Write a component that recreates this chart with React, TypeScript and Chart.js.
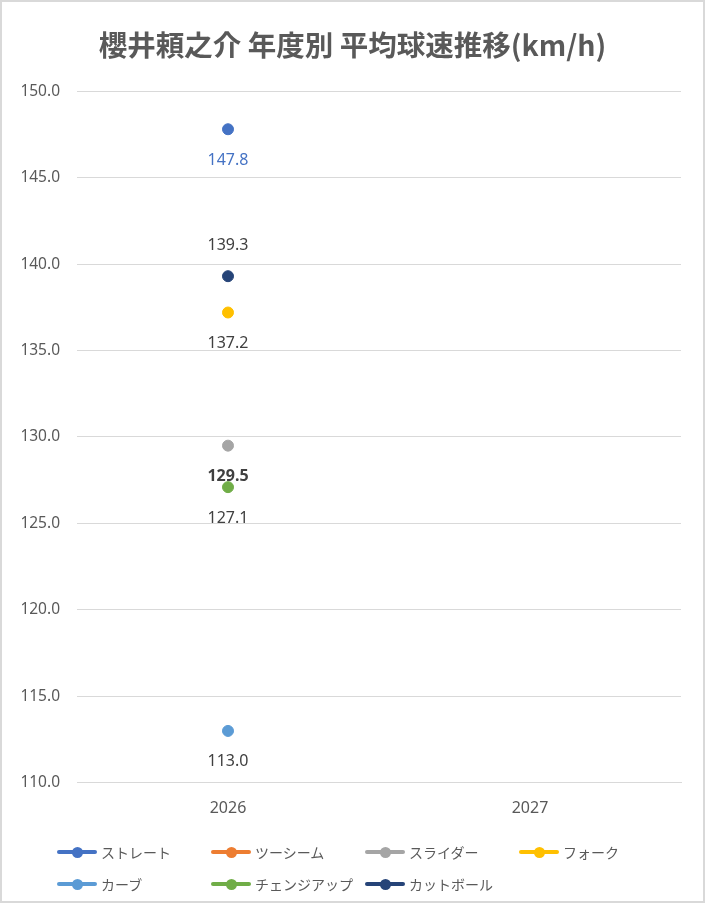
import { useEffect, useRef } from "react";
import { Chart, registerables } from "chart.js";

Chart.register(...registerables);

const TITLE = "櫻井頼之介 年度別 平均球速推移(km/h)";
const YEARS = ["2026", "2027"];
const PITCHES = ["ストレート", "ツーシーム", "スライダー", "フォーク", "カーブ", "チェンジアップ", "カットボール"];
const STRAIGHT = [147.8, null];
const TWO_SEAM = [null, null];
const SLIDER = [129.5, null];
const FORK = [137.2, null];
const CURVE = [113.0, null];
const CHANGEUP = [127.1, null];
const CUTTER = [139.3, null];
const SERIES = [STRAIGHT, TWO_SEAM, SLIDER, FORK, CURVE, CHANGEUP, CUTTER];
const Y_MIN = 110;
const Y_MAX = 150;
const Y_STEP = 5;

// styles
const COLORS = ["#4472C4", "#ED7D31", "#A5A5A5", "#FFC000", "#5B9BD5", "#70AD47", "#264478"];
const LABEL_SIDE = [1, 1, 1, 1, 1, 1, -1]; // 1 = below point, -1 = above
const LABEL_COLOR = ["#4472C4", "#404040", "#404040", "#404040", "#404040", "#404040", "#404040"];
const LABEL_BOLD = [false, false, true, false, false, false, false];
const FONT = "'Noto Sans', 'Noto Sans CJK JP', sans-serif";
const JP_FONT = "'Noto Sans CJK JP', 'Noto Sans', sans-serif";

const valueLabels = {
  id: "valueLabels",
  afterDatasetsDraw(chart: any) {
    const ctx = chart.ctx;
    ctx.save();
    ctx.textAlign = "center";
    ctx.textBaseline = "middle";
    chart.data.datasets.forEach((ds: any, i: number) => {
      const meta = chart.getDatasetMeta(i);
      meta.data.forEach((pt: any, j: number) => {
        const v = ds.data[j];
        if (v == null) return;
        ctx.font = `${LABEL_BOLD[i] ? "bold " : ""}16px ${FONT}`;
        ctx.fillStyle = LABEL_COLOR[i];
        ctx.fillText(v.toFixed(1), pt.x, pt.y + LABEL_SIDE[i] * 31);
      });
    });
    ctx.restore();
  },
};

function Legend() {
  return (
    <div style={{ position: "absolute", left: 57, top: 836, width: 640 }}>
      {PITCHES.map((name, i) => (
        <div
          key={name}
          style={{
            position: "absolute",
            left: (i % 4) * 154,
            top: Math.floor(i / 4) * 32,
            height: 32,
            display: "flex",
            alignItems: "center",
            whiteSpace: "nowrap",
          }}
        >
          <span style={{ position: "relative", width: 40, height: 12, display: "inline-block" }}>
            <span
              style={{
                position: "absolute",
                left: 0,
                top: 4,
                width: 40,
                height: 4,
                borderRadius: 2,
                background: COLORS[i],
              }}
            />
            <span
              style={{
                position: "absolute",
                left: 14.5,
                top: 0.5,
                width: 11,
                height: 11,
                borderRadius: "50%",
                background: COLORS[i],
              }}
            />
          </span>
          <span style={{ marginLeft: 4, font: `14px ${JP_FONT}`, color: "#595959" }}>{name}</span>
        </div>
      ))}
    </div>
  );
}

export default function App() {
  const canvasRef = useRef<HTMLCanvasElement>(null);

  useEffect(() => {
    if (!canvasRef.current) return;
    const chart = new Chart(canvasRef.current, {
      type: "line",
      data: {
        labels: YEARS,
        datasets: PITCHES.map((name, i) => ({
          label: name,
          data: SERIES[i],
          borderColor: COLORS[i],
          backgroundColor: COLORS[i],
          borderWidth: 3,
          pointRadius: 5.5,
          pointBorderWidth: 1,
          spanGaps: false,
        })),
      },
      options: {
        responsive: false,
        animation: false,
        layout: { padding: { left: 0, right: 0, top: 0, bottom: 69 } },
        plugins: {
          legend: { display: false },
          tooltip: { enabled: false },
          title: {
            display: true,
            text: TITLE,
            color: "#595959",
            font: { family: JP_FONT, size: 28.5, weight: "bold" },
            padding: { top: 28, bottom: 29 },
          },
        },
        scales: {
          x: {
            offset: true,
            grid: { display: false, drawTicks: false },
            border: { color: "#D9D9D9" },
            ticks: { color: "#595959", font: { family: FONT, size: 16 }, padding: 16 },
          },
          y: {
            min: Y_MIN,
            max: Y_MAX,
            afterFit: (scale: any) => {
              scale.width = 77;
            },
            grid: { color: "#D9D9D9", drawTicks: false },
            border: { display: false },
            ticks: {
              stepSize: Y_STEP,
              color: "#595959",
              font: { family: FONT, size: 15.5 },
              padding: 17,
              callback: (v: any) => Number(v).toFixed(1),
            },
          },
          // empty spacer on the right so the title stays centred on the page
          yRight: {
            position: "right",
            min: Y_MIN,
            max: Y_MAX,
            afterFit: (scale: any) => {
              scale.width = 24;
            },
            grid: { display: false, drawTicks: false },
            border: { display: false },
            ticks: { display: false },
          },
        },
      },
      plugins: [valueLabels],
    });
    return () => chart.destroy();
  }, []);

  return (
    <div style={{ position: "absolute", left: 0, top: 0, width: 705, height: 903, background: "#fff" }}>
      <canvas ref={canvasRef} width={705} height={903} style={{ position: "absolute", left: 0, top: 0 }} />
      <Legend />
      <div
        style={{
          position: "absolute",
          left: 0,
          top: 0,
          width: 705,
          height: 903,
          boxSizing: "border-box",
          border: "2px solid #D9D9D9",
          pointerEvents: "none",
        }}
      />
    </div>
  );
}
